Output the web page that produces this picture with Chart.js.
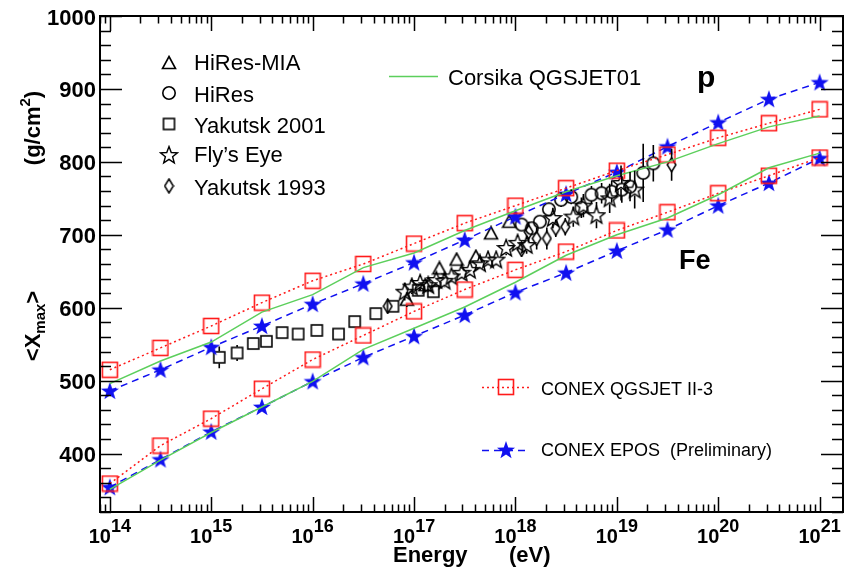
<!DOCTYPE html>
<html>
<head>
<meta charset="utf-8">
<script src="https://cdn.jsdelivr.net/npm/chart.js@4.4.1/dist/chart.umd.min.js"></script>
<style>
html, body { margin: 0; padding: 0; background: #fff; }
</style>
</head>
<body>
<canvas id="myChart" width="857" height="569"></canvas>
<script>
// model energies (eV), half-decade steps
const energies = [1e14, 3.16e14, 1e15, 3.16e15, 1e16, 3.16e16, 1e17, 3.16e17, 1e18, 3.16e18, 1e19, 3.16e19, 1e20, 3.16e20, 1e21];
const qgsII_p  = [515, 545, 575, 607, 637, 660, 688, 716, 740, 764, 788, 810, 833, 853, 872];
const qgsII_fe = [359, 411, 448, 489, 529, 562, 595, 625, 652, 677, 706, 731, 757, 781, 806];
const epos_p   = [486, 515, 546, 575, 605, 633, 662, 693, 725, 756, 786, 821, 854, 886, 909];
const epos_fe  = [354, 392, 430, 464, 499, 532, 561, 590, 621, 648, 678, 707, 740, 771, 805];
const corsika_p  = [496, 527, 553, 594, 618, 655, 675, 706, 733, 759, 781, 800, 825, 848, 863];
const corsika_fe = [351, 391, 429, 464, 499, 543, 572, 601, 635, 672, 700, 723, 755, 792, 812];

// measurements
const hiresMiaE   = [8.5e16, 1.29e17, 1.78e17, 2.63e17, 4.07e17, 5.75e17, 8.7e17];
const hiresMiaX   = [611, 631, 654, 666, 670, 702, 718];
const hiresMiaErr = [10, 8, 7, 6, 6, 6, 7];

const hiresE   = [1.15e18, 1.45e18, 1.74e18, 2.14e18, 2.82e18, 3.55e18, 4.47e18, 5.62e18, 7.08e18, 8.9e18, 1.12e19, 1.35e19, 1.82e19, 2.29e19];
const hiresX   = [714, 709, 718, 735, 748, 752, 737, 755, 757, 759, 762, 766, 785, 798];
const hiresErr = [8, 8, 8, 9, 10, 10, 14, 12, 14, 15, 18, 20, 40, 25];

const yak01E   = [1.2e15, 1.8e15, 2.6e15, 3.5e15, 5.0e15, 7.2e15, 1.1e16, 1.8e16, 2.6e16, 4.2e16, 6.2e16, 1.1e17, 1.55e17];
const yak01X   = [532, 538, 551, 554, 566, 564, 569, 564, 581, 592, 602, 624, 622];
const yak01Err = [15, 11, 8, 5, 3, 3, 4, 3, 3, 4, 5, 6, 6];

const flysE   = [8.1e16, 9.5e16, 1.15e17, 1.38e17, 1.66e17, 2.0e17, 2.34e17, 2.95e17, 3.55e17, 4.47e17, 5.37e17, 6.46e17, 8.1e17, 1.05e18, 1.29e18, 2.34e18, 3.72e18, 4.68e18, 6.3e18, 8.5e18, 1.1e19, 1.5e19];
const flysX   = [622, 629, 634, 631, 638, 637, 643, 648, 652, 661, 666, 666, 682, 689, 686, 723, 725, 740, 727, 750, 771, 762];
const flysErr = [12, 10, 10, 9, 9, 9, 8, 8, 8, 8, 8, 8, 10, 10, 12, 14, 14, 16, 18, 20, 24, 26];

const yak93E   = [5.5e16, 1.15e18, 1.35e18, 1.62e18, 2.04e18, 2.5e18, 3.1e18, 3.47e19];
const yak93X   = [602, 680, 704, 695, 695, 709, 711, 796];
const yak93Err = [10, 10, 14, 15, 15, 12, 12, 22];

// axis labels
const xExponents = [14, 15, 16, 17, 18, 19, 20, 21];
const yTickValues = [400, 500, 600, 700, 800, 900, 1000];

const RED = '#ff1a1a';
const BLUE = '#1010f0';
const GREEN = '#5ccf5c';
const FONT = '"Liberation Sans", Arial, Helvetica, sans-serif';

function pts(xs, ys) {
    return xs.map((x, i) => ({x: x, y: ys[i]}));
}

// marker images (ROOT style)
function marker(w, h, draw) {
    const c = document.createElement('canvas');
    c.width = w; c.height = h;
    const g = c.getContext('2d');
    draw(g, w, h);
    return c;
}
function starPath(g, cx, cy, R, r) {
    g.beginPath();
    for (let i = 0; i < 10; i++) {
        const a = -Math.PI / 2 + i * Math.PI / 5;
        const rr = i % 2 ? r : R;
        g.lineTo(cx + rr * Math.cos(a), cy + rr * Math.sin(a));
    }
    g.closePath();
}
const mRedSquare = marker(18, 18, (g) => { g.strokeStyle = RED; g.lineWidth = 1.6; g.strokeRect(1.5, 1.5, 15, 15); });
const mBlueStar = marker(20, 20, (g) => { g.fillStyle = BLUE; starPath(g, 10, 10.6, 9.5, 3.8); g.fill(); });
const mTriangle = marker(16, 16, (g) => { g.strokeStyle = '#000'; g.lineWidth = 1.6; g.beginPath(); g.moveTo(8, 1.5); g.lineTo(14.5, 13.5); g.lineTo(1.5, 13.5); g.closePath(); g.stroke(); });
const mCircle = marker(16, 16, (g) => { g.strokeStyle = '#000'; g.lineWidth = 1.6; g.beginPath(); g.arc(8, 8, 6.2, 0, Math.PI * 2); g.stroke(); });
const mSquare = marker(15, 15, (g) => { g.strokeStyle = '#000'; g.lineWidth = 1.6; g.strokeRect(2, 2, 11, 11); });
const mStar = marker(20, 20, (g) => { g.strokeStyle = '#000'; g.lineWidth = 1.4; starPath(g, 10, 10.6, 9, 3.8); g.stroke(); });
const mDiamond = marker(11, 16, (g) => { g.strokeStyle = '#000'; g.lineWidth = 1.5; g.beginPath(); g.moveTo(5.5, 1); g.lineTo(9.8, 8); g.lineTo(5.5, 15); g.lineTo(1.2, 8); g.closePath(); g.stroke(); });

function modelSet(label, ys, color, dash, style) {
    return {
        label: label, data: pts(energies, ys), showLine: true,
        borderColor: color, borderWidth: 1.5, borderDash: dash,
        pointStyle: style || false, pointRadius: style ? 8 : 0, fill: false
    };
}
function dataSet(label, xs, ys, errs, style) {
    return {
        label: label, data: pts(xs, ys), showLine: false,
        pointStyle: style, pointRadius: 6, errors: errs
    };
}

const rootPlugin = {
    id: 'rootStyle',
    afterDatasetsDraw(chart) {
        const ctx = chart.ctx, ys = chart.scales.y;
        ctx.save();
        ctx.strokeStyle = '#000';
        ctx.lineWidth = 1.6;
        chart.data.datasets.forEach((ds, di) => {
            if (!ds.errors) return;
            const meta = chart.getDatasetMeta(di);
            meta.data.forEach((el, i) => {
                const v = ds.data[i].y, e = ds.errors[i];
                const yTop = ys.getPixelForValue(v + e), yBot = ys.getPixelForValue(v - e);
                const gap = 6;
                ctx.beginPath();
                if (el.y - gap > yTop) { ctx.moveTo(el.x, yTop); ctx.lineTo(el.x, el.y - gap); }
                if (el.y + gap < yBot) { ctx.moveTo(el.x, el.y + gap); ctx.lineTo(el.x, yBot); }
                ctx.stroke();
            });
        });
        ctx.restore();
    },
    afterDraw(chart) {
        const ctx = chart.ctx, xs = chart.scales.x, ys = chart.scales.y;
        const a = chart.chartArea;
        ctx.save();
        ctx.strokeStyle = '#000';
        // ticks
        ctx.lineWidth = 1.5;
        ctx.beginPath();
        for (let e = 13; e <= 21; e++) {
            for (let m = 1; m <= 9; m++) {
                const v = m * Math.pow(10, e);
                if (v < xs.min || v > xs.max) continue;
                const px = Math.round(xs.getPixelForValue(v)) + 0.5;
                const len = m === 1 ? 15 : 7.5;
                ctx.moveTo(px, a.bottom); ctx.lineTo(px, a.bottom - len);
                ctx.moveTo(px, a.top); ctx.lineTo(px, a.top + len);
            }
        }
        for (let v = 320; v <= 1000; v += 20) {
            const py = Math.round(ys.getPixelForValue(v)) + 0.5;
            const len = v % 100 === 0 ? 22 : 11;
            ctx.moveTo(a.left, py); ctx.lineTo(a.left + len, py);
            ctx.moveTo(a.right, py); ctx.lineTo(a.right - len, py);
        }
        ctx.stroke();
        // frame
        ctx.lineWidth = 2;
        ctx.strokeRect(a.left, a.top, a.right - a.left, a.bottom - a.top);

        ctx.fillStyle = '#000';
        // y tick labels
        ctx.font = 'bold 22px ' + FONT;
        ctx.textAlign = 'right';
        ctx.textBaseline = 'alphabetic';
        yTickValues.forEach(v => {
            ctx.fillText(String(v), a.left - 4, ys.getPixelForValue(v) + 8.5);
        });
        // x tick labels 10^n
        ctx.textAlign = 'left';
        xExponents.forEach(n => {
            const px = xs.getPixelForValue(Math.pow(10, n));
            ctx.font = 'bold 20px ' + FONT;
            const w1 = ctx.measureText('10').width;
            ctx.font = 'bold 18px ' + FONT;
            const w2 = ctx.measureText(String(n)).width;
            const x0 = px - (w1 + w2) / 2;
            ctx.font = 'bold 20px ' + FONT;
            ctx.fillText('10', x0, 543);
            ctx.font = 'bold 18px ' + FONT;
            ctx.fillText(String(n), x0 + w1, 532);
        });
        // x title
        ctx.font = 'bold 22px ' + FONT;
        ctx.fillText('Energy', 393, 562);
        ctx.fillText('(eV)', 509, 562);

        // y title (rotated)
        ctx.save();
        ctx.translate(40, 0);
        ctx.rotate(-Math.PI / 2);
        function runText(parts, centerY) {
            let total = 0;
            parts.forEach(p => { ctx.font = p[1]; total += ctx.measureText(p[0]).width; });
            let x = -centerY - total / 2;
            parts.forEach(p => { ctx.font = p[1]; ctx.fillText(p[0], x, p[2]); x += ctx.measureText(p[0]).width; });
        }
        const bf = 'bold 22px ' + FONT, sf = 'bold 15px ' + FONT;
        runText([['(g/cm', bf, 0], ['2', sf, -10], [')', bf, 0]], 128);
        runText([['<X', bf, 0], ['max', sf, 5], ['>', bf, 0]], 326);
        ctx.restore();

        // data legend
        ctx.font = '22px ' + FONT;
        ctx.textAlign = 'left';
        const leg = [[mTriangle, 'HiRes-MIA', 63, 70], [mCircle, 'HiRes', 93, 101.5], [mSquare, 'Yakutsk 2001', 124, 132.5],
                     [mStar, 'Fly\u2019s Eye', 155, 162], [mDiamond, 'Yakutsk 1993', 186, 194.5]];
        leg.forEach(l => {
            ctx.drawImage(l[0], 169 - l[0].width / 2, l[2] - l[0].height / 2);
            ctx.fillText(l[1], 194, l[3]);
        });
        // Corsika legend
        ctx.strokeStyle = GREEN; ctx.lineWidth = 1.5;
        ctx.beginPath(); ctx.moveTo(389, 76.5); ctx.lineTo(438, 76.5); ctx.stroke();
        ctx.fillText('Corsika QGSJET01', 448, 85);
        // CONEX legends
        ctx.font = '18px ' + FONT;
        ctx.strokeStyle = RED; ctx.setLineDash([2, 3]);
        ctx.beginPath(); ctx.moveTo(482, 387.5); ctx.lineTo(529, 387.5); ctx.stroke();
        ctx.drawImage(mRedSquare, 506 - 9, 387 - 9);
        ctx.fillText('CONEX QGSJET II-3', 541, 395);
        ctx.strokeStyle = BLUE; ctx.setLineDash([7, 5]);
        ctx.beginPath(); ctx.moveTo(482, 450.5); ctx.lineTo(529, 450.5); ctx.stroke();
        ctx.setLineDash([]);
        ctx.drawImage(mBlueStar, 506 - 10, 450 - 10);
        ctx.fillText('CONEX EPOS  (Preliminary)', 541, 456);
        // primaries
        ctx.font = 'bold 30px ' + FONT;
        ctx.fillText('p', 697, 87);
        ctx.font = 'bold 27px ' + FONT;
        ctx.fillText('Fe', 679, 269);
        ctx.restore();
    }
};

const ctx = document.getElementById('myChart');
const myChart = new Chart(ctx, {
    type: 'scatter',
    data: {
        datasets: [
            modelSet('Corsika QGSJET01 p', corsika_p, GREEN, []),
            modelSet('Corsika QGSJET01 Fe', corsika_fe, GREEN, []),
            modelSet('CONEX QGSJET II-3 p', qgsII_p, RED, [2, 3], mRedSquare),
            modelSet('CONEX QGSJET II-3 Fe', qgsII_fe, RED, [2, 3], mRedSquare),
            modelSet('CONEX EPOS p', epos_p, BLUE, [7, 5], mBlueStar),
            modelSet('CONEX EPOS Fe', epos_fe, BLUE, [7, 5], mBlueStar),
            dataSet('Yakutsk 2001', yak01E, yak01X, yak01Err, mSquare),
            dataSet('HiRes-MIA', hiresMiaE, hiresMiaX, hiresMiaErr, mTriangle),
            dataSet('Fly\u2019s Eye', flysE, flysX, flysErr, mStar),
            dataSet('HiRes', hiresE, hiresX, hiresErr, mCircle),
            dataSet('Yakutsk 1993', yak93E, yak93X, yak93Err, mDiamond)
        ]
    },
    options: {
        responsive: false,
        animation: false,
        devicePixelRatio: 1,
        layout: { padding: { left: 100, right: 14, top: 16, bottom: 57 } },
        scales: {
            x: { type: 'logarithmic', min: 8e13, max: 1.7e21, display: false },
            y: { type: 'linear', min: 320, max: 1000, display: false }
        },
        plugins: {
            legend: { display: false },
            tooltip: { enabled: false }
        },
        elements: { line: { tension: 0 } }
    },
    plugins: [rootPlugin]
});
</script>
</body>
</html>
